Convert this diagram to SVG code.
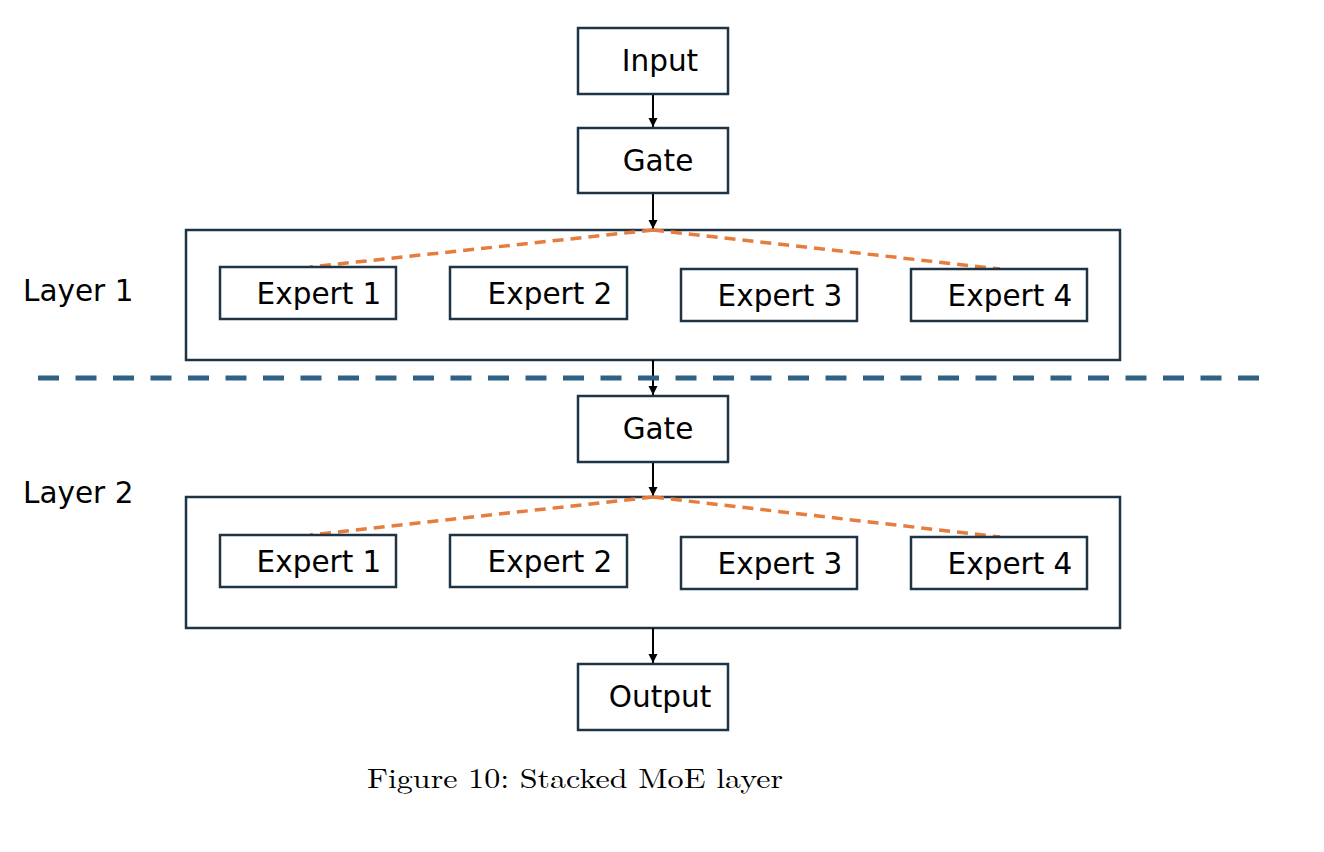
<svg xmlns="http://www.w3.org/2000/svg" width="1324" height="852" viewBox="0 0 1324 852">
<defs>
<style>
.box{fill:#fff;stroke:#1e3444;stroke-width:2.5}
.lyr{fill:none;stroke:#1e3444;stroke-width:2.5}
.t{font-family:"DejaVu Sans",Verdana,sans-serif;font-size:29.5px;fill:#000;text-anchor:middle}
.lab{font-family:"DejaVu Sans",Verdana,sans-serif;font-size:29.5px;fill:#000}
.arr{stroke:#000;stroke-width:2;fill:none;marker-end:url(#ah)}
.gate{stroke:#e67c3e;stroke-width:3.5;stroke-dasharray:11 7;fill:none}
.sep{stroke:#2e6184;stroke-width:5;stroke-dasharray:21 16.5;fill:none}
.cap{font-family:"Latin Modern Roman","Liberation Serif",serif;font-size:28px;fill:#000}
</style>
<marker id="ah" viewBox="0 0 10 10" refX="10" refY="5" markerWidth="9" markerHeight="10" markerUnits="userSpaceOnUse" orient="auto">
<path d="M0,0 L10,5 L0,10 z" fill="#000"/>
</marker>
</defs>
<rect width="1324" height="852" fill="#fff"/>

<g id="layer1-label"><text class="lab" x="23" y="301">Layer 1</text></g>
<g id="layer2-label"><text class="lab" x="23" y="503">Layer 2</text></g>

<g id="layer1"><rect class="lyr" x="186" y="230" width="934" height="130"/></g>
<g id="layer2"><rect class="lyr" x="186" y="497" width="934" height="131"/></g>

<g id="connectors">
<line class="arr" x1="653" y1="94" x2="653" y2="127"/>
<line class="arr" x1="653" y1="193" x2="653" y2="229"/>
<line class="arr" x1="653" y1="360" x2="653" y2="395"/>
<line class="arr" x1="653" y1="462" x2="653" y2="496"/>
<line class="arr" x1="653" y1="628" x2="653" y2="663"/>
<path class="gate" d="M653,230 L310,267"/>
<path class="gate" d="M653,230 L1000,269"/>
<path class="gate" d="M653,497 L310,535"/>
<path class="gate" d="M653,497 L1000,537"/>
<line class="sep" x1="38" y1="378" x2="1262" y2="378"/>
</g>

<g id="input"><rect class="box" x="578" y="28" width="150" height="66"/><text class="t" x="660" y="71">Input</text></g>
<g id="gate1"><rect class="box" x="578" y="128" width="150" height="65"/><text class="t" x="658" y="171">Gate</text></g>

<g id="l1-expert1"><rect class="box" x="220" y="267" width="176" height="52"/><text class="t" x="319" y="304">Expert 1</text></g>
<g id="l1-expert2"><rect class="box" x="450" y="267" width="177" height="52"/><text class="t" x="550" y="304">Expert 2</text></g>
<g id="l1-expert3"><rect class="box" x="681" y="269" width="176" height="52"/><text class="t" x="780" y="306">Expert 3</text></g>
<g id="l1-expert4"><rect class="box" x="911" y="269" width="176" height="52"/><text class="t" x="1010" y="306">Expert 4</text></g>

<g id="gate2"><rect class="box" x="578" y="396" width="150" height="66"/><text class="t" x="658" y="439">Gate</text></g>

<g id="l2-expert1"><rect class="box" x="220" y="535" width="176" height="52"/><text class="t" x="319" y="572">Expert 1</text></g>
<g id="l2-expert2"><rect class="box" x="450" y="535" width="177" height="52"/><text class="t" x="550" y="572">Expert 2</text></g>
<g id="l2-expert3"><rect class="box" x="681" y="537" width="176" height="52"/><text class="t" x="780" y="574">Expert 3</text></g>
<g id="l2-expert4"><rect class="box" x="911" y="537" width="176" height="52"/><text class="t" x="1010" y="574">Expert 4</text></g>

<g id="output"><rect class="box" x="578" y="664" width="150" height="66"/><text class="t" x="660" y="707">Output</text></g>

<g id="caption"><text class="cap" x="367" y="788" textLength="416" lengthAdjust="spacingAndGlyphs">Figure 10: Stacked MoE layer</text></g>
</svg>
